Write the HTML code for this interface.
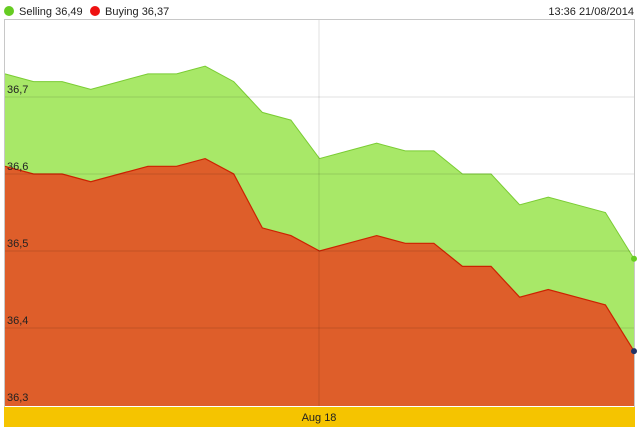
<!DOCTYPE html>
<html><head><meta charset="utf-8"><style>
body{margin:0;background:#fff;width:640px;height:433px;overflow:hidden;font-family:"Liberation Sans",sans-serif}
svg text{font-family:"Liberation Sans",sans-serif;font-size:11px;fill:#222}
</style></head><body>
<svg width="640" height="433">
<g>
<circle cx="9" cy="11" r="5" fill="#66cc22"/>
<text x="19" y="15">Selling 36,49</text>
<circle cx="95" cy="11" r="5" fill="#ee1111"/>
<text x="105" y="15">Buying 36,37</text>
<text x="634" y="15" text-anchor="end">13:36 21/08/2014</text>
</g>
<rect x="4.5" y="19.5" width="630" height="388" fill="#fff" stroke="#c8c8c8"/>
<g id="marks"></g>
<rect x="4" y="407" width="631" height="20" fill="#f5c400"/>
<text x="319" y="421" text-anchor="middle">Aug 18</text>
</svg>
<script>
const selling=[36.73,36.72,36.72,36.71,36.72,36.73,36.73,36.74,36.72,36.68,36.67,36.62,36.63,36.64,36.63,36.63,36.60,36.60,36.56,36.57,36.56,36.55,36.49];
const buying=[36.61,36.60,36.60,36.59,36.60,36.61,36.61,36.62,36.60,36.53,36.52,36.50,36.51,36.52,36.51,36.51,36.48,36.48,36.44,36.45,36.44,36.43,36.37];
const yTicks=[36.3,36.4,36.5,36.6,36.7];
const yTickLabels=["36,3","36,4","36,5","36,6","36,7"];
const ns="http://www.w3.org/2000/svg";
const g=document.getElementById('marks');
const x=i=>5+i*(629/(selling.length-1));
const y=v=>97+(36.7-v)*770;
const base=406;
function mk(t,a){const e=document.createElementNS(ns,t);for(const k in a)e.setAttribute(k,a[k]);g.appendChild(e);return e;}
function area(d){let s=`M${x(0)},${base}`;d.forEach((v,i)=>s+=` L${x(i)},${y(v)}`);return s+` L${x(d.length-1)},${base} Z`;}
function line(d){return d.map((v,i)=>(i?'L':'M')+x(i)+','+y(v)).join(' ');}
let e=mk('path',{d:area(selling),fill:'#a8e868'});


e=mk('path',{d:line(selling),fill:'none',stroke:'#7acc33','stroke-width':1});


e=mk('path',{d:area(buying),fill:'#de5e2a'});


e=mk('path',{d:line(buying),fill:'none',stroke:'#cc2200','stroke-width':1.2});


yTicks.forEach((t,i)=>{
 if(i>0){const l=mk('line',{x1:5,x2:634,y1:y(t),y2:y(t),stroke:'rgba(0,0,0,0.12)'});
 
 }
 const tx=mk('text',{x:7,y:y(t)-4});tx.textContent=yTickLabels[i];
 
 
});
e=mk('line',{x1:319,x2:319,y1:20,y2:406,stroke:'rgba(0,0,0,0.12)'});


e=mk('circle',{cx:x(selling.length-1),cy:y(selling[selling.length-1]),r:3,fill:'#66cc22'});


e=mk('circle',{cx:x(buying.length-1),cy:y(buying[buying.length-1]),r:3,fill:'#223366'});


</script>
</body></html>
